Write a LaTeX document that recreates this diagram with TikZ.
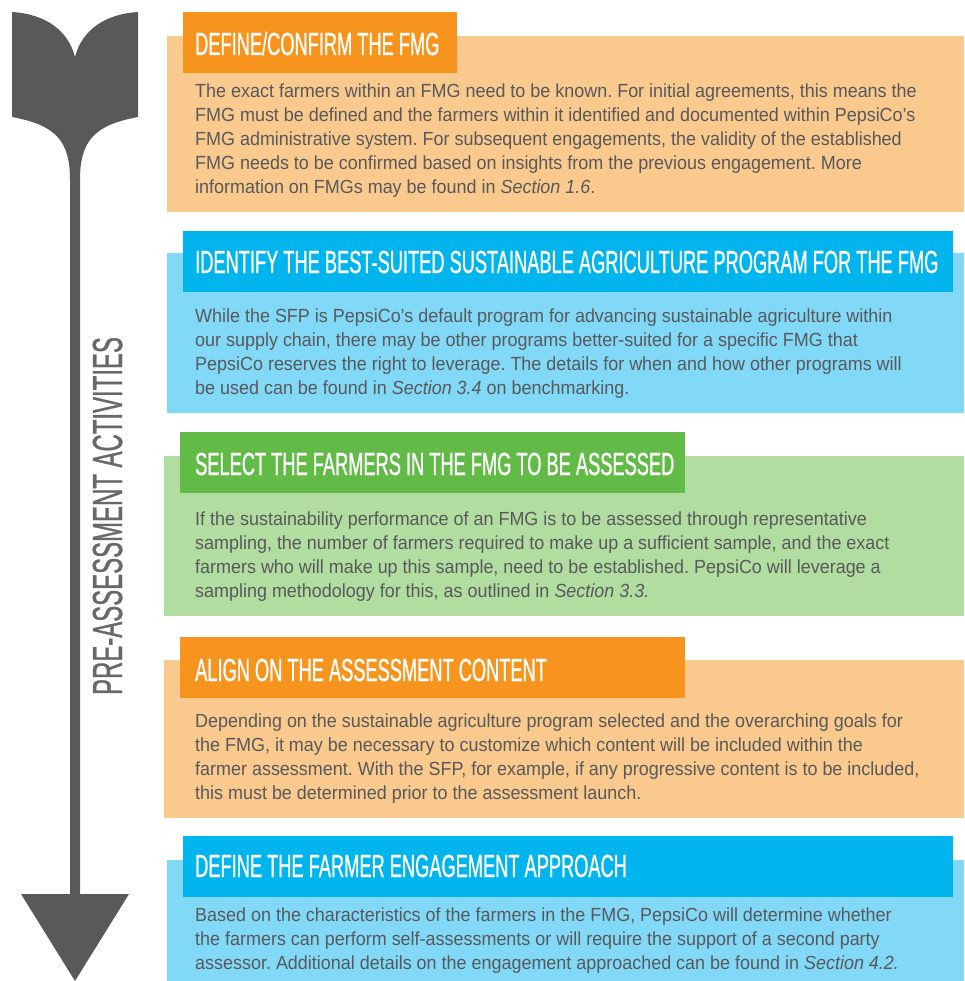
\documentclass[tikz,border=0pt]{standalone}
\usepackage{fontspec}
\setmainfont{Liberation Sans}
\newfontfamily\headfont[FakeStretch=0.57, FakeBold=0.8]{Liberation Sans}
\newfontfamily\bodyfont[FakeStretch=0.945]{Liberation Sans}
\usetikzlibrary{positioning}
\frenchspacing
\definecolor{pepsiorange}{RGB}{247,148,29}
\definecolor{pepsiorangelight}{RGB}{249,201,141}
\definecolor{pepsiblue}{RGB}{0,180,237}
\definecolor{pepsibluelight}{RGB}{129,216,247}
\definecolor{pepsigreen}{RGB}{98,187,71}
\definecolor{pepsigreenlight}{RGB}{177,221,161}
\definecolor{arrowgray}{RGB}{89,89,89}
\definecolor{labelgray}{RGB}{104,104,104}
\definecolor{textgray}{RGB}{88,89,91}
\tikzset{
    cardbody/.style={fill=#1, inner sep=0, anchor=north west, minimum width=797pt},
    cardhead/.style={fill=#1, inner sep=0, anchor=north west, minimum height=61pt},
    cardtitle/.style={inner sep=0, anchor=base west, text=white, font=\headfont\fontsize{32}{32}\selectfont},
    cardtext/.style={inner sep=0, anchor=base west, align=left, text=textgray, font=\bodyfont\fontsize{19}{24}\selectfont}
}

\begin{document}
\begin{tikzpicture}[x=1pt, y=-1pt]
    \useasboundingbox (0,0) rectangle (964,981);
    % Timeline arrow
    \fill[arrowgray] (12,12) .. controls (45,14) and (68,30) .. (75,57)
        .. controls (82,30) and (105,14) .. (138,12) -- (138,117)
        .. controls (95,125) and (80,140) .. (80,180) -- (80,894) -- (129,894)
        -- (75,981) -- (21,894) -- (70,894) -- (70,180)
        .. controls (70,140) and (55,125) .. (12,117) -- cycle;
    \node[inner sep=0, rotate=90, anchor=base, text=labelgray, font=\headfont\fontsize{42}{42}\selectfont] (phase) at (122,516) {PRE-ASSESSMENT ACTIVITIES};

    % Step 1 (text anchored at its last baseline)
    \node[cardbody=pepsiorangelight, minimum height=176pt] (body1) at (167,36) {};
    \node[cardhead=pepsiorange, minimum width=274pt] (head1) at (183,12) {};
    \node[cardtitle] (title1) at (195,55) {DEFINE/CONFIRM THE FMG};
    \node[cardtext] (text1) at (195,194) {The exact farmers within an FMG need to be known. For initial agreements, this means the\\
        FMG must be defined and the farmers within it identified and documented within PepsiCo’s\\
        FMG administrative system. For subsequent engagements, the validity of the established\\
        FMG needs to be confirmed based on insights from the previous engagement. More\\
        information on FMGs may be found in \textit{Section 1.6}.};

    % Step 2
    \node[cardbody=pepsibluelight, minimum height=160pt] (body2) at (167,253) {};
    \node[cardhead=pepsiblue, minimum width=770pt] (head2) at (183,231) {};
    \node[cardtitle] (title2) at (195,273) {IDENTIFY THE BEST-SUITED SUSTAINABLE AGRICULTURE PROGRAM FOR THE FMG};
    \node[cardtext] (text2) at (195,394) {While the SFP is PepsiCo’s default program for advancing sustainable agriculture within\\
        our supply chain, there may be other programs better-suited for a specific FMG that\\
        PepsiCo reserves the right to leverage. The details for when and how other programs will\\
        be used can be found in \textit{Section 3.4} on benchmarking.};

    % Step 3
    \node[cardbody=pepsigreenlight, minimum width=800pt, minimum height=160pt] (body3) at (164,456) {};
    \node[cardhead=pepsigreen, minimum width=505pt] (head3) at (180,432) {};
    \node[cardtitle] (title3) at (195,475) {SELECT THE FARMERS IN THE FMG TO BE ASSESSED};
    \node[cardtext] (text3) at (195,597) {If the sustainability performance of an FMG is to be assessed through representative\\
        sampling, the number of farmers required to make up a sufficient sample, and the exact\\
        farmers who will make up this sample, need to be established. PepsiCo will leverage a\\
        sampling methodology for this, as outlined in \textit{Section 3.3.}};

    % Step 4
    \node[cardbody=pepsiorangelight, minimum width=800pt, minimum height=158pt] (body4) at (164,660) {};
    \node[cardhead=pepsiorange, minimum width=505pt] (head4) at (180,637) {};
    \node[cardtitle] (title4) at (195,681) {ALIGN ON THE ASSESSMENT CONTENT};
    \node[cardtext] (text4) at (195,799) {Depending on the sustainable agriculture program selected and the overarching goals for\\
        the FMG, it may be necessary to customize which content will be included within the\\
        farmer assessment. With the SFP, for example, if any progressive content is to be included,\\
        this must be determined prior to the assessment launch.};

    % Step 5
    \node[cardbody=pepsibluelight, minimum height=121pt] (body5) at (167,860) {};
    \node[cardhead=pepsiblue, minimum width=770pt] (head5) at (183,836) {};
    \node[cardtitle] (title5) at (195,877) {DEFINE THE FARMER ENGAGEMENT APPROACH};
    \node[cardtext] (text5) at (195,969) {Based on the characteristics of the farmers in the FMG, PepsiCo will determine whether\\
        the farmers can perform self-assessments or will require the support of a second party\\
        assessor. Additional details on the engagement approached can be found in \textit{Section 4.2.}};
\end{tikzpicture}
\end{document}
